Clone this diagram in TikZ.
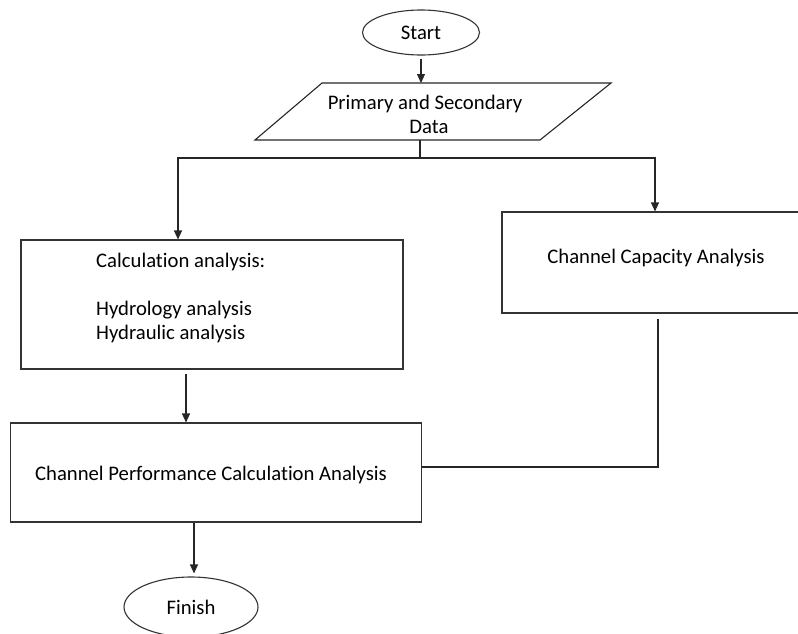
\documentclass[tikz,border=0pt]{standalone}
\usepackage{fontspec}
\setmainfont{Carlito}[RawFeature={-liga;-clig;-dlig}]
\usetikzlibrary{arrows.meta,shapes.geometric,calc}
\begin{document}
\begin{tikzpicture}[x=1pt,y=-1pt,
  every node/.style={font=\fontsize{20.7}{24}\selectfont, text=black},
  boxnode/.style={draw=black!80, line width=1.1pt, rectangle, inner sep=0pt},
  ovalnode/.style={draw=black!80, line width=1.1pt, ellipse, inner sep=0pt},
  txt/.style={inner sep=0pt},
  conn/.style={draw=black!85, line width=1.1pt},
  arr/.style={conn, -{Triangle[length=9pt,width=8pt]}}]
\clip (0,0) rectangle (798,633);
\useasboundingbox (0,0) rectangle (798,633);
% start
\node[ovalnode, minimum width=117pt, minimum height=45pt] (start) at (421,32.5) {Start};
% parallelogram
\coordinate (p1) at (322,83);
\coordinate (p2) at (611,83);
\coordinate (p3) at (540,140);
\coordinate (p4) at (255,140);
\draw[conn] (p1) -- (p2) -- (p3) -- (p4) -- cycle;
\node[txt, align=center] (paratxt) at (425,114) {Primary and Secondary\\\hspace*{8pt}Data};
\coordinate (paratop) at (421,83);
\coordinate (parabot) at (420,140);
\coordinate (jn) at (420,158);
% calc box
\node[boxnode, minimum width=382pt, minimum height=129pt] (calc) at (212,304.5) {};
\node[txt, anchor=west, align=left] (calctxt) at (96,298) {Calculation analysis:\\[24pt]Hydrology analysis\\Hydraulic analysis};
% capacity box
\node[boxnode, minimum width=308pt, minimum height=101pt] (cap) at (656,262.5) {};
\node[txt] (captxt) at (656,258) {Channel Capacity Analysis};
% performance box
\node[boxnode, minimum width=411pt, minimum height=99pt] (perf) at (216,472.5) {};
\node[txt] (perftxt) at (211,475) {Channel Performance Calculation Analysis};
% finish
\node[ovalnode, minimum width=134pt, minimum height=60pt] (finish) at (191,607) {Finish};
% helper coordinates
\coordinate (lx) at (178,0);
\coordinate (rx) at (655,0);
\coordinate (mx) at (186,0);
\coordinate (cx) at (658,0);
\coordinate (ey) at (0,467);
\coordinate (fx) at (194,0);
% connectors
\draw[arr, shorten <=3pt] (start.south) -- (paratop);
\draw[conn] (parabot) -- (jn);
\draw[arr] (jn) -| (lx |- calc.north);
\draw[arr] (jn) -| (rx |- cap.north);
\draw[arr, shorten <=4pt] (mx |- calc.south) -- (mx |- perf.north);
\draw[conn, shorten <=5pt] (cx |- cap.south) |- (perf.east |- ey);
\draw[arr, shorten >=3pt] (fx |- perf.south) -- (fx |- finish.north);
\end{tikzpicture}
\end{document}
